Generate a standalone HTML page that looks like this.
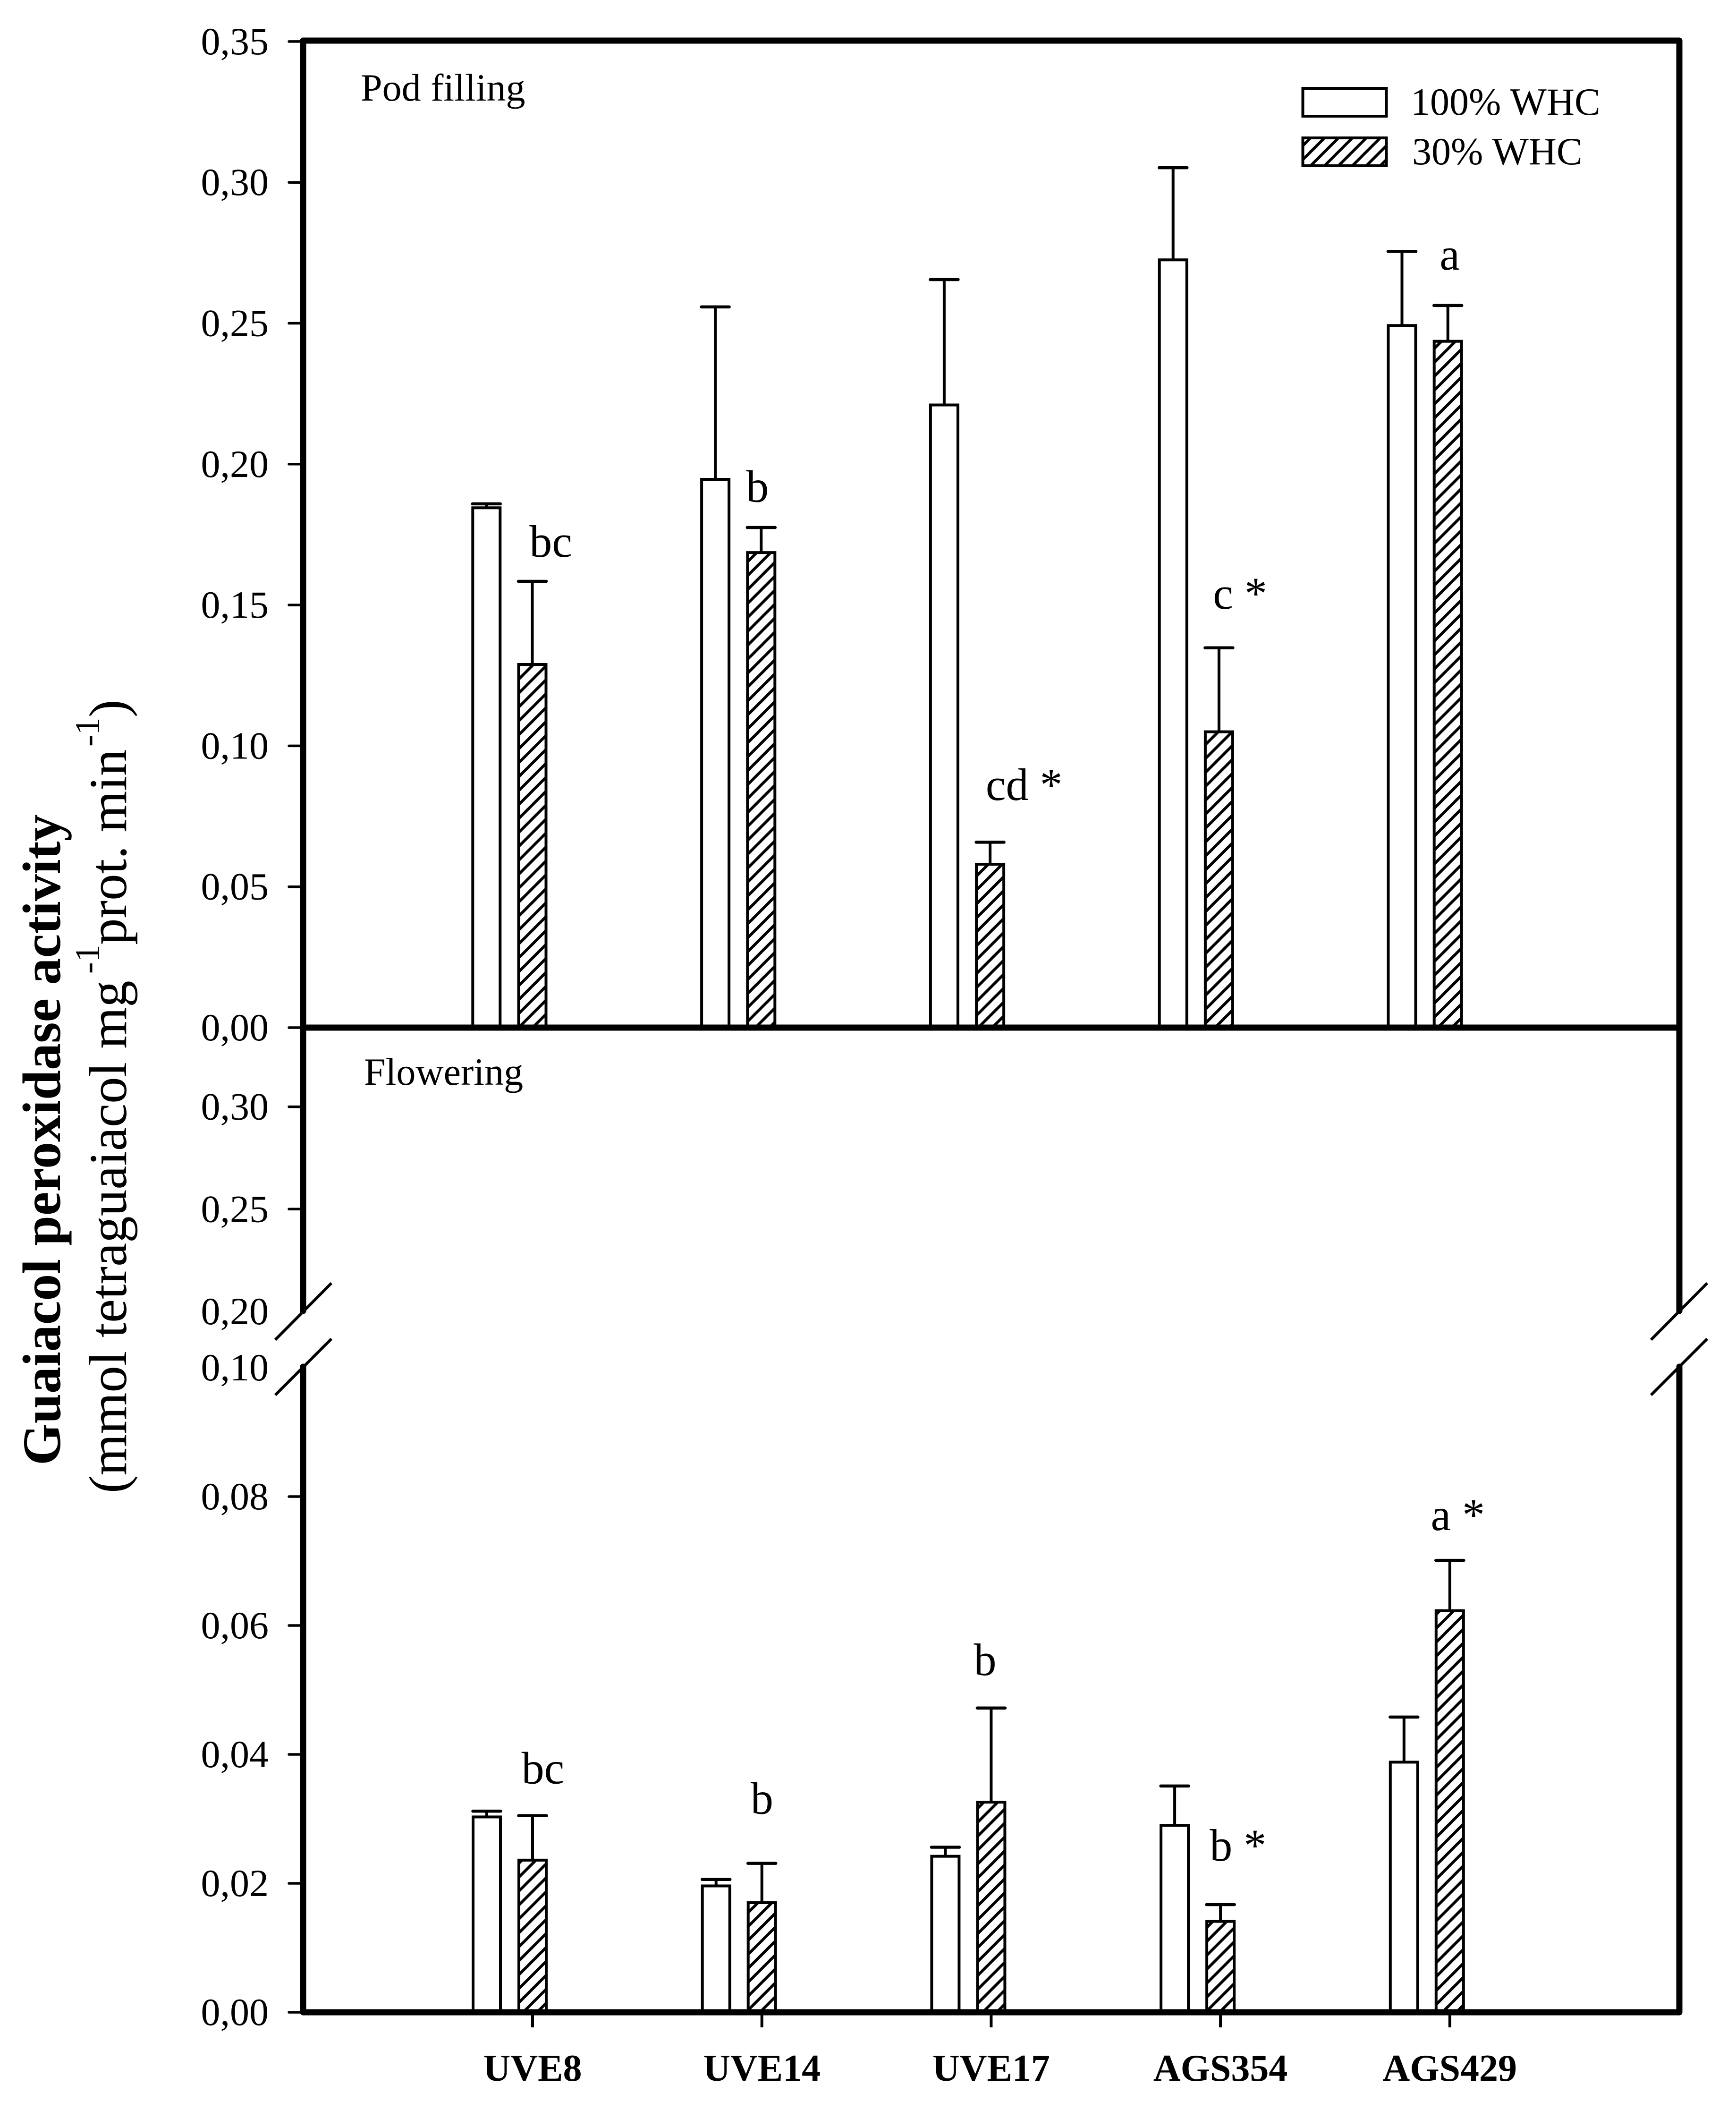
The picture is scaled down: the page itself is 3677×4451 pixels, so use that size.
<!DOCTYPE html>
<html lang="en">
<head>
<meta charset="utf-8">
<title>Guaiacol peroxidase activity</title>
<style>
html,body{margin:0;padding:0;background:#fff;}
svg{display:block;}
text{font-family:"Liberation Serif",serif;fill:#000;}
</style>
</head>
<body>
<svg id="chart" xmlns="http://www.w3.org/2000/svg" width="3677" height="4451" viewBox="0 0 3677 4451">
  <defs>
    <pattern id="hatch" patternUnits="userSpaceOnUse" width="29.5" height="29.5">
      <rect width="29.5" height="29.5" fill="#fff"/>
      <path d="M-5,5 L5,-5 M0,29.5 L29.5,0 M24.5,34.5 L34.5,24.5" stroke="#000" stroke-width="6" fill="none"/>
    </pattern>
  </defs>
  <rect width="3677" height="4451" fill="#fff"/>

  <g id="marks"></g>

  <g fill="none" stroke="#000" stroke-width="13" stroke-linejoin="round" stroke-linecap="round">
    <path d="M642,2776 L642,86 L3557,86 L3557,2776"/>
    <path d="M642,2176 L3557,2176" stroke-linecap="butt"/>
    <path d="M642,2894 L642,4261 L3557,4261 L3557,2894"/>
  </g>
  <g stroke="#000" stroke-width="6" fill="none">
    <line x1="583" y1="2837" x2="702" y2="2717"/>
    <line x1="583" y1="2954" x2="702" y2="2835"/>
    <line x1="3497" y1="2837" x2="3616" y2="2717"/>
    <line x1="3497" y1="2954" x2="3616" y2="2835"/>
  </g>

  <g id="axes"></g>

  <text x="764" y="213" font-size="82">Pod filling</text>
  <text x="771" y="2297" font-size="82">Flowering</text>

  <g>
    <rect x="2759.5" y="187" width="177" height="59" fill="#fff" stroke="#000" stroke-width="6"/>
    <text x="2988" y="243" font-size="82">100% WHC</text>
    <rect x="2759.5" y="292" width="177" height="59" fill="url(#hatch)" stroke="#000" stroke-width="6"/>
    <text x="2991" y="348" font-size="82">30% WHC</text>
  </g>

  <g>
    <text transform="translate(127,3103) rotate(-90)" font-size="114" font-weight="bold">Guaiacol peroxidase activity</text>
    <text transform="translate(267,3162) rotate(-90)" font-size="113">(mmol tetraguaiacol mg</text>
    <text transform="translate(210,2062) rotate(-90)" font-size="74">-1</text>
    <text transform="translate(267,2001) rotate(-90)" font-size="113">prot. min</text>
    <text transform="translate(210,1581) rotate(-90)" font-size="74">-1</text>
    <text transform="translate(267,1519) rotate(-90)" font-size="113">)</text>
  </g>
</svg>
<script>
// ---- data ----
const categories = ['UVE8', 'UVE14', 'UVE17', 'AGS354', 'AGS429'];

const podWhite = [0.1845, 0.1946, 0.2210, 0.2725, 0.2492];
const podWhiteUpper = [0.1859, 0.2558, 0.2655, 0.3052, 0.2755];
const podHatched = [0.1289, 0.1686, 0.0580, 0.1050, 0.2436];
const podHatchedUpper = [0.1584, 0.1775, 0.0658, 0.1348, 0.2563];
const podLetters = ['bc', 'b', 'cd *', 'c *', 'a'];
const podLetterLevel = [0.1671, 0.1866, 0.0808, 0.1487, 0.2690];
const podLetterShift = [-0.013, -0.066, -0.019, -0.026, -0.036];

const flowerWhite = [0.0303, 0.0196, 0.0242, 0.0290, 0.0388];
const flowerWhiteUpper = [0.0312, 0.0206, 0.0256, 0.0351, 0.0458];
const flowerHatched = [0.0236, 0.0170, 0.0326, 0.0141, 0.0623];
const flowerHatchedUpper = [0.0305, 0.0231, 0.0472, 0.0167, 0.0701];
const flowerLetters = ['bc', 'b', 'b', 'b *', 'a *'];
const flowerLetterLevel = [0.0355, 0.0308, 0.0523, 0.0235, 0.0748];
const flowerLetterShift = [-0.048, -0.049, -0.076, -0.047, -0.083];

const podTicks = [0.35, 0.30, 0.25, 0.20, 0.15, 0.10, 0.05, 0.00];
const podTickLabels = ['0,35', '0,30', '0,25', '0,20', '0,15', '0,10', '0,05', '0,00'];
const flowerTicks = [0.30, 0.25, 0.20, 0.10, 0.08, 0.06, 0.04, 0.02, 0.00];
const flowerTickLabels = ['0,30', '0,25', '0,20', '0,10', '0,08', '0,06', '0,04', '0,02', '0,00'];
const flowerTickMarkHidden = [false, false, true, true, false, false, false, false, false];

// ---- axis functions ----
function yPod(v) { return 2176 - v * 5966; }
function yFlower(v) {
  if (v <= 0.10) { return 4261 - v * 13650; }
  return 2777 - (v - 0.20) * 4334;
}
function xPod(i) { return 1127.5 + i * 484.8; }
function xFlower(i) { return 1128 + i * 485.7; }

const NS = 'http://www.w3.org/2000/svg';
const marks = document.getElementById('marks');
const axes = document.getElementById('axes');

function make(parent, tag, attrs, content) {
  const el = document.createElementNS(NS, tag);
  for (const k in attrs) { el.setAttribute(k, attrs[k]); }
  if (content !== undefined) { el.textContent = content; }
  parent.appendChild(el);
  return el;
}

function drawBar(panel, series, cat, cx, yTop, yCap, yBase, fill) {
  const stem = make(marks, 'line', { x1: cx, x2: cx, y1: yTop, y2: yCap, stroke: '#000', 'stroke-width': 6 });
  
  
  const cap = make(marks, 'line', { x1: cx - 29.5, x2: cx + 29.5, y1: yCap, y2: yCap, stroke: '#000', 'stroke-width': 6.5, 'stroke-linecap': 'round' });
  
  
  const bar = make(marks, 'rect', { x: cx - 29, y: yTop, width: 58, height: yBase - yTop, fill: fill, stroke: '#000', 'stroke-width': 6 });
  
  
}

// ---- pod filling bars ----
categories.forEach(function (cat, i) {
  const cx = xPod(i);
  drawBar('pod', 'whc100', cat, cx - 97.2, yPod(podWhite[i]), yPod(podWhiteUpper[i]), yPod(0), '#fff');
  drawBar('pod', 'whc30', cat, cx, yPod(podHatched[i]), yPod(podHatchedUpper[i]), yPod(0), 'url(#hatch)');
  const t = make(marks, 'text', { x: cx + podLetterShift[i] * 484.8, y: yPod(podLetterLevel[i]), 'font-size': 96 }, podLetters[i]);
  
  
});

// ---- flowering bars ----
categories.forEach(function (cat, i) {
  const cx = xFlower(i);
  drawBar('flowering', 'whc100', cat, cx - 97, yFlower(flowerWhite[i]), yFlower(flowerWhiteUpper[i]), yFlower(0), '#fff');
  drawBar('flowering', 'whc30', cat, cx, yFlower(flowerHatched[i]), yFlower(flowerHatchedUpper[i]), yFlower(0), 'url(#hatch)');
  const t = make(marks, 'text', { x: cx + flowerLetterShift[i] * 485.7, y: yFlower(flowerLetterLevel[i]), 'font-size': 96 }, flowerLetters[i]);
  
  

  const tick = make(axes, 'line', { x1: cx, x2: cx, y1: 4261, y2: 4293, stroke: '#000', 'stroke-width': 6 });
  
  
  const label = make(axes, 'text', { x: cx, y: 4406, 'font-size': 80, 'font-weight': 'bold', 'text-anchor': 'middle' }, cat);
  
  
});

// ---- y axes ----
function yTick(panel, y, labelText, hideMark) {
  if (!hideMark) {
    const tick = make(axes, 'line', { x1: 612, x2: 642, y1: y, y2: y, stroke: '#000', 'stroke-width': 5.5, 'stroke-linecap': 'round' });
    
    
  }
  const label = make(axes, 'text', { x: 569, y: y + 27, 'font-size': 82, 'text-anchor': 'end' }, labelText);
  
  
}
podTicks.forEach(function (v, i) { yTick('pod', yPod(v), podTickLabels[i], false); });
flowerTicks.forEach(function (v, i) { yTick('flowering', yFlower(v), flowerTickLabels[i], flowerTickMarkHidden[i]); });
</script>
</body>
</html>
